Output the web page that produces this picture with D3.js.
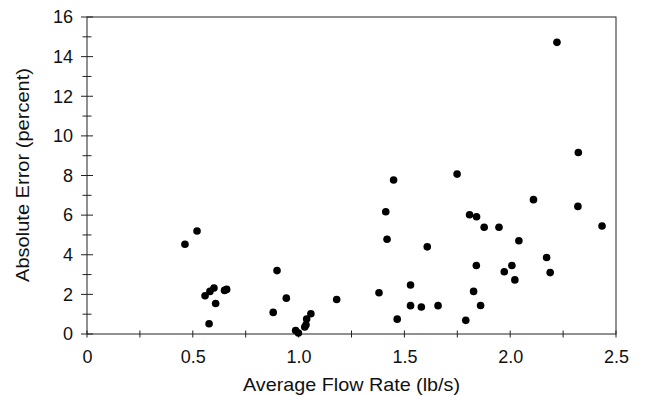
<!DOCTYPE html>
<html>
<head>
<meta charset="utf-8">
<script src="https://cdnjs.cloudflare.com/ajax/libs/d3/7.8.5/d3.min.js"></script>
<style>
  body { margin: 0; background: #fff; }
  text { font-family: "Liberation Sans", Arial, sans-serif; fill: #111; }
</style>
</head>
<body>
<div id="chart"></div>
<script>
let width = 645;
let height = 396;
let margin = {left: 87, right: 29, top: 17, bottom: 62};

// average flow rate (lb/s)
let flowRate = [0.463, 0.52, 0.558, 0.581, 0.60, 0.577, 0.608, 0.65, 0.66,
  0.88, 0.898, 0.942, 0.986, 0.999, 1.029, 1.035, 1.038, 1.058,
  1.18, 1.38, 1.412, 1.418, 1.449, 1.466, 1.529, 1.529, 1.58, 1.608, 1.659,
  1.749, 1.79, 1.808, 1.841, 1.827, 1.84, 1.86, 1.877, 1.947, 1.972, 2.008,
  2.022, 2.041, 2.11, 2.172, 2.189, 2.221, 2.32, 2.322, 2.434];
// absolute error (percent)
let absError = [4.53, 5.2, 1.93, 2.15, 2.32, 0.52, 1.54, 2.2, 2.25,
  1.09, 3.2, 1.81, 0.18, 0.05, 0.35, 0.47, 0.76, 1.02,
  1.74, 2.08, 6.17, 4.78, 7.77, 0.75, 2.47, 1.43, 1.36, 4.40, 1.43,
  8.07, 0.69, 6.02, 5.92, 2.15, 3.46, 1.44, 5.39, 5.39, 3.14, 3.46,
  2.73, 4.71, 6.78, 3.86, 3.10, 14.72, 6.44, 9.16, 5.45];

let xTicks = [0, 0.5, 1.0, 1.5, 2.0, 2.5];
let xMinor = [0.25, 0.75, 1.25, 1.75, 2.25];
let yTicks = [0, 2, 4, 6, 8, 10, 12, 14, 16];
let yMinor = [1, 3, 5, 7, 9, 11, 13, 15];

let points = flowRate.map((d, i) => ({x: d, y: absError[i]}));

let svg = d3.select("#chart").append("svg")
  .attr("width", width)
  .attr("height", height);

let xScale = d3.scaleLinear().domain([0, 2.5]).range([margin.left, width - margin.right]);
let yScale = d3.scaleLinear().domain([0, 16]).range([height - margin.bottom, margin.top]);

let axisColor = "#222";

// frame
svg.append("rect")
  .attr("x", xScale(0))
  .attr("y", yScale(16))
  .attr("width", xScale(2.5) - xScale(0))
  .attr("height", yScale(0) - yScale(16))
  .attr("fill", "none")
  .attr("stroke", axisColor)
  .attr("stroke-width", 1);

// x axis, ticks crossing the line
let xAxis = svg.append("g").attr("transform", "translate(0," + yScale(0) + ")");
xAxis.call(d3.axisBottom(xScale).tickValues(xTicks)
  .tickFormat(d => d === 0 ? "0" : d3.format(".1f")(d))
  .tickSize(0).tickPadding(16));
xAxis.select(".domain").remove();
xAxis.selectAll("text").attr("font-size", 18).attr("fill", "#111");
xAxis.selectAll(".tk").data(xTicks.concat(xMinor)).enter().append("line")
  .attr("x1", d => xScale(d)).attr("x2", d => xScale(d))
  .attr("y1", -3.5).attr("y2", 3.5)
  .attr("stroke", axisColor);

// y axis
let yAxis = svg.append("g").attr("transform", "translate(" + xScale(0) + ",0)");
yAxis.call(d3.axisLeft(yScale).tickValues(yTicks).tickSize(0).tickPadding(14));
yAxis.select(".domain").remove();
yAxis.selectAll("text").attr("font-size", 18).attr("fill", "#111");
yAxis.selectAll(".tk").data(yTicks).enter().append("line")
  .attr("x1", -6).attr("x2", 6)
  .attr("y1", d => yScale(d)).attr("y2", d => yScale(d))
  .attr("stroke", axisColor);
yAxis.selectAll(".mn").data(yMinor).enter().append("line")
  .attr("x1", -4.5).attr("x2", 4.5)
  .attr("y1", d => yScale(d)).attr("y2", d => yScale(d))
  .attr("stroke", axisColor);

// data points
svg.append("g").selectAll("circle").data(points).enter().append("circle")
  .attr("cx", d => xScale(d.x))
  .attr("cy", d => yScale(d.y))
  .attr("r", 3.8)
  .attr("fill", "#000");

// titles
svg.append("text")
  .attr("x", 351.5)
  .attr("y", 391)
  .attr("text-anchor", "middle")
  .attr("font-size", 19)
  .attr("textLength", 217)
  .attr("lengthAdjust", "spacingAndGlyphs")
  .text("Average Flow Rate (lb/s)");

svg.append("text")
  .attr("transform", "translate(29,175) rotate(-90)")
  .attr("text-anchor", "middle")
  .attr("font-size", 19)
  .attr("textLength", 214)
  .attr("lengthAdjust", "spacingAndGlyphs")
  .text("Absolute Error (percent)");
</script>
</body>
</html>
